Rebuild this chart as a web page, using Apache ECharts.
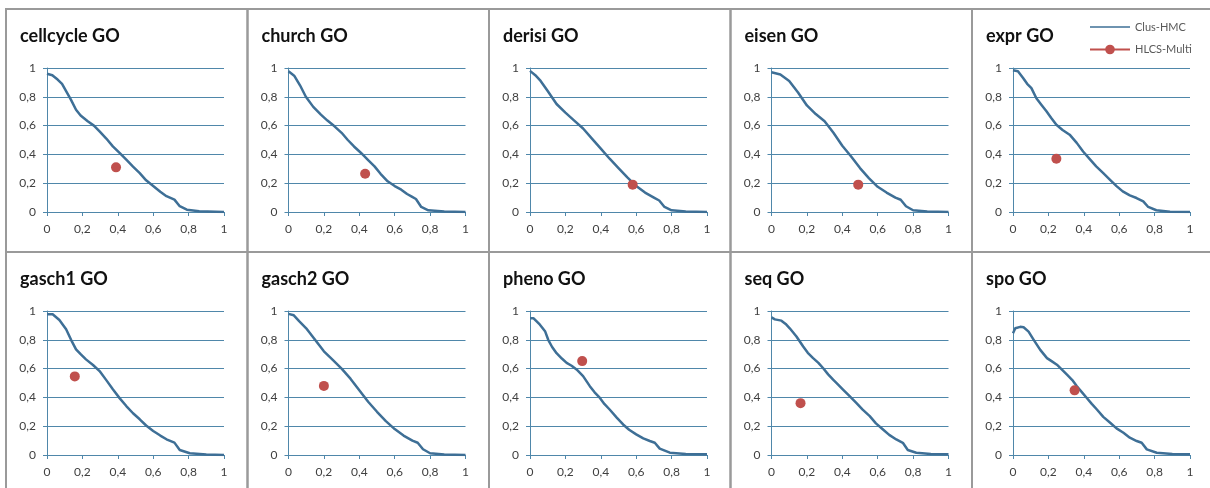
<!DOCTYPE html>
<html><head><meta charset="utf-8">
<script src="https://cdn.jsdelivr.net/npm/echarts@6/dist/echarts.min.js"></script>
<style>html,body{margin:0;padding:0;background:#fff}#c{width:1210px;height:488px}</style>
</head><body><div id="c"></div>
<script>
var titles = ['cellcycle GO','church GO','derisi GO','eisen GO','expr GO','gasch1 GO','gasch2 GO','pheno GO','seq GO','spo GO'];
var xTicks = [0,0.2,0.4,0.6,0.8,1];
var yTicks = [0,0.2,0.4,0.6,0.8,1];
var seriesNames = ['Clus-HMC','HLCS-Multi'];

var cellcycleCurve = [[0,0.96],[0.03,0.95],[0.06,0.92],[0.085,0.89],[0.108,0.84],[0.135,0.78],[0.164,0.71],[0.19,0.67],[0.23,0.63],[0.265,0.60],[0.297,0.56],[0.335,0.51],[0.372,0.456],[0.41,0.41],[0.448,0.363],[0.486,0.315],[0.524,0.27],[0.56,0.22],[0.6,0.18],[0.64,0.14],[0.675,0.11],[0.72,0.086],[0.75,0.04],[0.79,0.016],[0.86,0.005],[1,0]];
var churchCurve = [[0,0.977],[0.032,0.947],[0.065,0.88],[0.098,0.80],[0.14,0.73],[0.183,0.676],[0.22,0.635],[0.26,0.595],[0.3,0.55],[0.335,0.50],[0.37,0.455],[0.41,0.41],[0.45,0.36],[0.486,0.317],[0.52,0.265],[0.56,0.213],[0.6,0.18],[0.637,0.155],[0.67,0.125],[0.694,0.109],[0.72,0.09],[0.75,0.035],[0.79,0.012],[0.88,0.004],[1,0]];
var derisiCurve = [[0,0.98],[0.03,0.95],[0.06,0.91],[0.1,0.84],[0.15,0.75],[0.2,0.69],[0.25,0.635],[0.3,0.58],[0.35,0.51],[0.4,0.44],[0.45,0.37],[0.5,0.305],[0.55,0.24],[0.6,0.18],[0.65,0.135],[0.7,0.10],[0.73,0.08],[0.76,0.035],[0.8,0.012],[0.88,0.004],[1,0]];
var eisenCurve = [[0,0.97],[0.05,0.955],[0.1,0.91],[0.15,0.83],[0.2,0.74],[0.25,0.68],[0.3,0.63],[0.35,0.55],[0.4,0.46],[0.45,0.385],[0.5,0.305],[0.55,0.235],[0.6,0.175],[0.65,0.135],[0.7,0.10],[0.73,0.085],[0.76,0.04],[0.8,0.012],[0.88,0.004],[1,0]];
var exprCurve = [[0,0.984],[0.028,0.977],[0.057,0.93],[0.08,0.89],[0.104,0.86],[0.132,0.79],[0.16,0.745],[0.189,0.70],[0.215,0.655],[0.245,0.606],[0.28,0.57],[0.32,0.537],[0.36,0.48],[0.396,0.42],[0.435,0.365],[0.47,0.317],[0.51,0.27],[0.547,0.225],[0.585,0.18],[0.62,0.143],[0.66,0.115],[0.698,0.097],[0.736,0.074],[0.764,0.035],[0.81,0.012],[0.887,0.002],[1,0]];
var gasch1Curve = [[0,0.977],[0.032,0.977],[0.07,0.937],[0.108,0.873],[0.136,0.80],[0.164,0.734],[0.19,0.70],[0.22,0.664],[0.26,0.625],[0.297,0.583],[0.335,0.52],[0.372,0.456],[0.41,0.395],[0.448,0.34],[0.486,0.29],[0.524,0.248],[0.56,0.205],[0.6,0.167],[0.64,0.135],[0.675,0.109],[0.72,0.086],[0.75,0.035],[0.807,0.012],[0.9,0.003],[1,0]];
var gasch2Curve = [[0,0.98],[0.03,0.97],[0.06,0.93],[0.1,0.88],[0.15,0.80],[0.2,0.72],[0.25,0.66],[0.3,0.60],[0.35,0.53],[0.4,0.45],[0.45,0.37],[0.5,0.30],[0.55,0.235],[0.6,0.18],[0.65,0.135],[0.7,0.10],[0.73,0.085],[0.76,0.04],[0.8,0.012],[0.88,0.004],[1,0]];
var phenoCurve = [[0,0.95],[0.019,0.95],[0.056,0.905],[0.085,0.86],[0.103,0.80],[0.125,0.75],[0.15,0.707],[0.18,0.67],[0.207,0.64],[0.235,0.62],[0.263,0.594],[0.3,0.548],[0.338,0.478],[0.365,0.435],[0.395,0.396],[0.42,0.355],[0.45,0.316],[0.49,0.26],[0.526,0.212],[0.56,0.175],[0.6,0.143],[0.64,0.115],[0.677,0.097],[0.705,0.085],[0.733,0.044],[0.79,0.016],[0.88,0.007],[1,0.005]];
var seqCurve = [[0,0.956],[0.019,0.942],[0.056,0.933],[0.08,0.91],[0.103,0.88],[0.141,0.823],[0.179,0.753],[0.205,0.71],[0.235,0.673],[0.265,0.64],[0.291,0.604],[0.32,0.56],[0.348,0.523],[0.375,0.49],[0.404,0.454],[0.44,0.41],[0.479,0.362],[0.515,0.315],[0.555,0.27],[0.59,0.22],[0.63,0.177],[0.665,0.14],[0.705,0.108],[0.742,0.085],[0.77,0.035],[0.818,0.016],[0.9,0.007],[1,0.005]];
var spoCurve = [[0,0.846],[0.013,0.88],[0.041,0.89],[0.06,0.887],[0.088,0.857],[0.117,0.80],[0.154,0.73],[0.192,0.673],[0.22,0.65],[0.248,0.627],[0.275,0.595],[0.305,0.558],[0.335,0.52],[0.361,0.477],[0.39,0.435],[0.417,0.396],[0.445,0.355],[0.474,0.316],[0.51,0.265],[0.549,0.224],[0.585,0.185],[0.624,0.154],[0.66,0.12],[0.699,0.097],[0.727,0.085],[0.756,0.039],[0.812,0.016],[0.9,0.007],[1,0.005]];

var hlcsX = [0.39,0.433,0.58,0.49,0.245,0.157,0.2,0.295,0.164,0.348];
var hlcsY = [0.31,0.266,0.19,0.19,0.37,0.546,0.48,0.652,0.36,0.449];

var curves = [cellcycleCurve,churchCurve,derisiCurve,eisenCurve,exprCurve,gasch1Curve,gasch2Curve,phenoCurve,seqCurve,spoCurve];

var lineColor = '#3e6f96';
var pointColor = '#c0504d';
var gridColor = '#4f87aa';
var labelColor = '#404040';
var fontFam = 'Lato, "Open Sans", sans-serif';

var grids = [], xAxes = [], yAxes = [], series = [], titleArr = [], graphics = [];
var colX = [6, 247.5, 489, 730.5, 972];
var panelW = 241.5, panelH = 243, rowY = [9, 252];

function fmt(v){ return String(Math.round(v*10)/10).replace('.', ','); }

for (var i = 0; i < 10; i++) {
  var r = Math.floor(i/5), c = i % 5;
  var px = colX[c], py = rowY[r];
  graphics.push({type:'rect', shape:{x:px, y:py, width:panelW, height:panelH}, style:{fill:null, stroke:'#9a9a9a', lineWidth:2}, silent:true, z:-1});
  titleArr.push({text:titles[i], left:px+14, top:py+18, padding:0, textStyle:{fontFamily:fontFam, fontWeight:'bold', fontSize:18, color:'#111'}});
  grids.push({left:px+41, top:py+59, width:177, height:144});
  xAxes.push({type:'value', gridIndex:i, min:0, max:1, interval:0.2,
    axisLine:{show:true, onZero:false, lineStyle:{color:gridColor, width:1}},
    axisTick:{show:true, length:4, lineStyle:{color:gridColor}},
    splitLine:{show:false},
    axisLabel:{formatter:fmt, color:labelColor, fontSize:12, fontFamily:fontFam, margin:11}
  });
  yAxes.push({type:'value', gridIndex:i, min:0, max:1, interval:0.2,
    axisLine:{show:true, onZero:false, lineStyle:{color:gridColor, width:1}},
    axisTick:{show:true, length:4, lineStyle:{color:gridColor}},
    splitLine:{show:true, lineStyle:{color:gridColor, width:1}},
    axisLabel:{formatter:fmt, color:labelColor, fontSize:12, fontFamily:fontFam, margin:11}
  });
  series.push({name:seriesNames[0], type:'line', xAxisIndex:i, yAxisIndex:i, data:curves[i],
    symbol:'none', smooth:false, lineStyle:{color:lineColor, width:2.5, join:'round'}, itemStyle:{color:lineColor}, z:3});
  series.push({name:seriesNames[1], type:'line', xAxisIndex:i, yAxisIndex:i, data:[[hlcsX[i], hlcsY[i]]],
    symbol:'circle', symbolSize:10, showSymbol:true, lineStyle:{color:pointColor, width:1.5}, itemStyle:{color:pointColor}, z:4});
}

var chart = echarts.init(document.getElementById('c'), null, {renderer:'canvas'});
chart.setOption({
  backgroundColor:'#fff',
  animation:false,
  title:titleArr,
  legend:{data:[{name:seriesNames[0], icon:'path://M0,0 M40,12 M0,5.2 L40,5.2 L40,6.8 L0,6.8 Z'}, {name:seriesNames[1]}],
    orient:'vertical', left:1084, top:16, itemWidth:40, itemHeight:12, itemGap:11,
    textStyle:{color:'#595959', fontSize:11, fontFamily:fontFam}},
  grid:grids, xAxis:xAxes, yAxis:yAxes, series:series, graphic:graphics
});
</script></body></html>
